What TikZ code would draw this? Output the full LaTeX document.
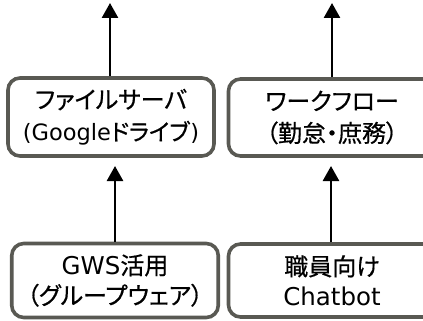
\documentclass[tikz,border=0pt]{standalone}
\usepackage{fontspec}
\setmainfont{Noto Sans CJK JP}[RawFeature=+palt, FakeBold=0.6]
\newfontfamily\lat{DejaVu Sans}
\usetikzlibrary{arrows.meta}
\definecolor{boxgray}{RGB}{89,89,83}
\newcommand{\La}[1]{{\lat\fontsize{24.5}{32}\selectfont #1}}
\newcommand{\Ls}[1]{{\lat\fontsize{22.5}{32}\selectfont #1}}
\tikzset{
  box/.style={draw=boxgray, line width=3.6pt, rounded corners=12pt, fill=white,
    align=center, inner sep=0pt, font=\fontsize{24}{32}\selectfont},
  lowbox/.style={box, font=\fontsize{24}{30}\selectfont},
  arr/.style={line width=2.6pt, -{Triangle[length=15pt,width=16pt]}}
}
\begin{document}
\begin{tikzpicture}[x=1pt,y=-1pt]
\useasboundingbox (0,0) rectangle (423,321);
\clip (0,0) rectangle (423,321);
\node[box, minimum width=206pt, minimum height=78pt] (tl) at (111,117)
  {ファイルサーバ\\\Ls{(Google}{\fontsize{23}{32}\selectfont ドライブ}\kern1pt\Ls{)}};
\node[box, minimum width=207pt, minimum height=77pt] (tr) at (332,117.5)
  {ワークフロー\\（勤怠・庶務）};
\node[lowbox, minimum width=206.5pt, minimum height=74pt] (bl) at (115,280.5)
  {\La{GWS}活用\\（グループウェア）};
\node[lowbox, minimum width=207pt, minimum height=73pt] (br) at (332,280.5)
  {職員向け\\\La{Chatbot}};
\coordinate (t1) at (110,3);
\coordinate (t2) at (332,3);
\coordinate (t3) at (115,166);
\coordinate (t4) at (331,166);
\draw[arr] (tl.north -| t1) -- (t1);
\draw[arr] (tr.north -| t2) -- (t2);
\draw[arr] (bl.north -| t3) -- (t3);
\draw[arr] (br.north -| t4) -- (t4);
\end{tikzpicture}
\end{document}
